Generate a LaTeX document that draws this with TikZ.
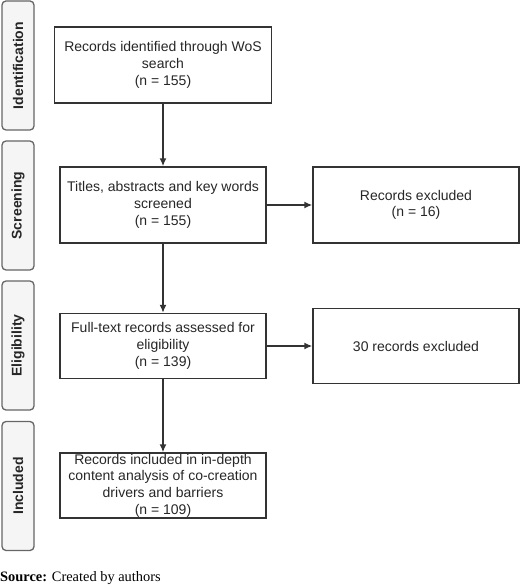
\documentclass[tikz,border=0pt]{standalone}
\usepackage{fontspec}
\setmainfont{Liberation Serif}
\newfontfamily\flowfont{Liberation Sans}
\usepackage{tikz}
\usetikzlibrary{arrows.meta}
\definecolor{boxgray}{rgb}{0.2,0.2,0.2}
\definecolor{phasegray}{rgb}{0.4,0.4,0.4}
\definecolor{phasefill}{rgb}{0.96,0.96,0.96}

\begin{document}
\begin{tikzpicture}[>={Latex[length=8pt,width=7pt]}, x=1pt, y=-1pt,
	flowbox/.style={draw=boxgray, line width=1.4pt, align=center, inner sep=0pt,
		font=\flowfont\fontsize{14}{16.7}\selectfont, text=black!85},
	phase/.style={draw=phasegray, fill=phasefill, line width=1.3pt, rounded corners=4pt,
		rotate=90, minimum width=129pt, minimum height=32pt, inner sep=0pt,
		font=\flowfont\bfseries\fontsize{14}{16}\selectfont, text=black!85},
	flow/.style={->, draw=boxgray, line width=1.5pt}]

\useasboundingbox (0,0) rectangle (520,585);

			% phases on the left
			\node[phase] (ident) at (18,65.5) {Identification};
			\node[phase] (screen) at (18,205.5) {Screening};
			\node[phase] (elig) at (18,345.5) {Eligibility};
			\node[phase] (incl) at (18,486) {Included};
			
			% main column
			\node[flowbox, minimum width=217pt, minimum height=76pt] (found) at (163,65)
				{Records identified through WoS\\search\\(n = 155)};
			\node[flowbox, minimum width=206pt, minimum height=76pt] (titles) at (163,205)
				{Titles, abstracts and key words\\screened\\(n = 155)};
			\node[flowbox, minimum width=206pt, minimum height=65pt] (fulltext) at (163,346)
				{Full-text records assessed for\\eligibility\\(n = 139)};
			\node[flowbox, minimum width=206pt, minimum height=65pt] (kept) at (163,485.5)
				{Records included in in-depth\\content analysis of co-creation\\drivers and barriers\\(n = 109)};
			
			% exclusions
			\node[flowbox, minimum width=206pt, minimum height=76pt] (out1) at (416,205)
				{Records excluded\\(n = 16)};
			\node[flowbox, minimum width=206pt, minimum height=75pt] (out2) at (416,346)
				{30 records excluded};
			
			\draw[flow] (found)--(titles);
			\draw[flow] (titles)--(fulltext);
			\draw[flow] (fulltext)--(kept);
			\draw[flow] (titles)--(out1);
			\draw[flow] (fulltext)--(out2);
			
			\node[anchor=base west, inner sep=0pt, font=\fontsize{14.4}{16}\selectfont] (src) at (0,581)
				{\textbf{Source:} Created by authors};

\end{tikzpicture}
\end{document}
